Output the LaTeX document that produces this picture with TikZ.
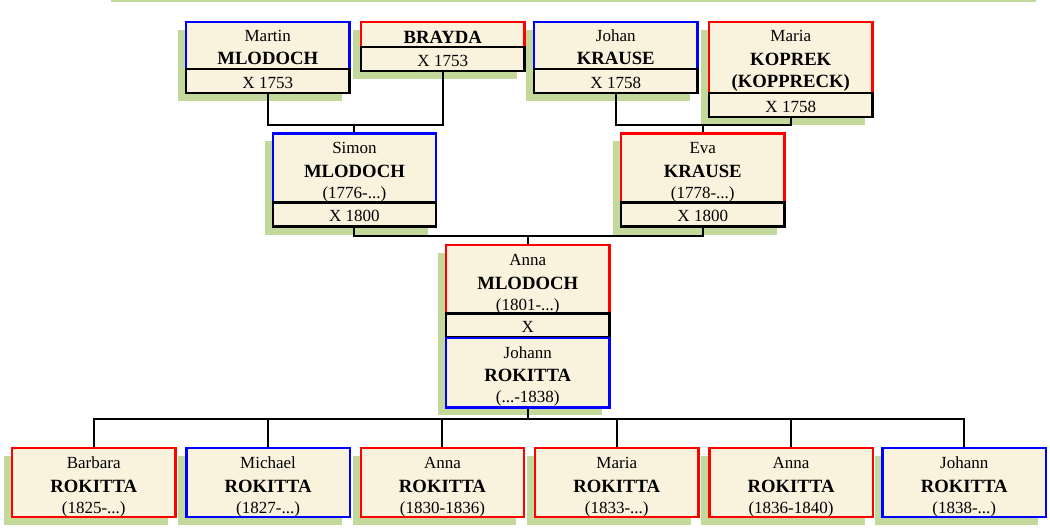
\documentclass[tikz,border=0pt]{standalone}
\usepackage{fontspec}
\setmainfont{Liberation Serif}
\usetikzlibrary{backgrounds}
\definecolor{cream}{RGB}{249,243,222}
\definecolor{leaf}{RGB}{195,216,155}
\definecolor{fred}{RGB}{255,0,0}
\definecolor{mblue}{RGB}{0,0,255}
\tikzset{
 cell/.style={draw, fill=cream, line width=2.4pt, minimum width=163.5pt, inner sep=0pt, outer sep=0pt, anchor=north west},
 fem/.style={cell, draw=fred},
 mal/.style={cell, draw=mblue},
 wed/.style={cell, draw=black, minimum height=24.2pt},
 reg/.style={anchor=base, inner sep=0pt, font=\fontsize{17}{17}\selectfont},
 bld/.style={anchor=base, inner sep=0pt, font=\fontsize{18.7}{18.7}\selectfont\bfseries},
 link/.style={draw=black, line width=2pt},
 greenshadow/.style={fill=leaf},
}
\newcommand\twol[3]{\node[reg] (#1-a) at ([yshift=-19pt]#1.north) {#2};
  \node[bld] (#1-b) at ([yshift=-42.5pt]#1.north) {#3};}
\newcommand\threel[4]{\node[reg] (#1-a) at ([yshift=-20pt]#1.north) {#2};
  \node[bld] (#1-b) at ([yshift=-44pt]#1.north) {#3};
  \node[reg] (#1-c) at ([yshift=-65pt]#1.north) {#4};}
\newcommand\wedl[2]{\node[reg] (#1-t) at ([yshift=4.6pt]#1.south) {#2};}
\begin{document}
\begin{tikzpicture}[x=1pt,y=-1pt]
\useasboundingbox (0,0) rectangle (1050,530);
\draw[leaf, line width=1.6pt] (111,0.8) -- (1036,0.8);
% top row
\node[mal, minimum height=47pt] (martin) at (186,22) {};
\node[wed] (martinx) at (186,69) {};
\twol{martin}{Martin}{MLODOCH}
\wedl{martinx}{X 1753}
\node[fem, minimum height=24.7pt] (brayda) at (361,22) {};
\node[wed] (braydax) at (361,46.7) {};
\node[bld] (brayda-b) at ([yshift=-21.3pt]brayda.north) {BRAYDA};
\wedl{braydax}{X 1753}
\node[mal, minimum height=47pt] (johan) at (534,22) {};
\node[wed] (johanx) at (534,69) {};
\twol{johan}{Johan}{KRAUSE}
\wedl{johanx}{X 1758}
\node[fem, minimum height=71pt] (maria) at (709,22) {};
\node[wed] (mariax) at (709,93) {};
\node[reg] (maria-a) at ([yshift=-19pt]maria.north) {Maria};
\node[bld] (maria-b) at ([yshift=-43pt]maria.north) {KOPREK};
\node[bld] (maria-c) at ([yshift=-65.5pt]maria.north) {(KOPPRECK)};
\wedl{mariax}{X 1758}
% middle row
\node[mal, minimum height=69pt] (simon) at (272.7,133.3) {};
\node[wed] (simonx) at (272.7,202.3) {};
\threel{simon}{Simon}{MLODOCH}{(1776-...)}
\wedl{simonx}{X 1800}
\node[fem, minimum height=69pt] (eva) at (621,133.3) {};
\node[wed] (evax) at (621,202.3) {};
\threel{eva}{Eva}{KRAUSE}{(1778-...)}
\wedl{evax}{X 1800}
% couple
\node[fem, minimum height=68.3pt] (anna) at (446,245) {};
\node[wed] (annax) at (446,313.3) {};
\node[mal, minimum height=69.6pt] (johann) at (446,337.7) {};
\threel{anna}{Anna}{MLODOCH}{(1801-...)}
\wedl{annax}{X}
\node[reg] (johann-a) at ([yshift=-20.6pt]johann.north) {Johann};
\node[bld] (johann-b) at ([yshift=-44pt]johann.north) {ROKITTA};
\node[reg] (johann-c) at ([yshift=-65pt]johann.north) {(...-1838)};
% children
\node[fem, minimum height=69pt] (c1) at (12,448) {};
\node[mal, minimum height=69pt] (c2) at (186.3,448) {};
\node[fem, minimum height=69pt] (c3) at (360.7,448) {};
\node[fem, minimum height=69pt] (c4) at (535,448) {};
\node[fem, minimum height=69pt] (c5) at (709.3,448) {};
\node[mal, minimum height=69pt] (c6) at (882.5,448) {};
\threel{c1}{Barbara}{ROKITTA}{(1825-...)}
\threel{c2}{Michael}{ROKITTA}{(1827-...)}
\threel{c3}{Anna}{ROKITTA}{(1830-1836)}
\threel{c4}{Maria}{ROKITTA}{(1833-...)}
\threel{c5}{Anna}{ROKITTA}{(1836-1840)}
\threel{c6}{Johann}{ROKITTA}{(1838-...)}
\coordinate (r1) at (0,125);
\coordinate (r3) at (0,235.7);
\coordinate (r4) at (0,418.5);
\begin{scope}[on background layer]
\foreach \a/\b in {martin/martinx, brayda/braydax, johan/johanx, maria/mariax, simon/simonx, eva/evax, anna/johann, c1/c1, c2/c2, c3/c3, c4/c4, c5/c5, c6/c6}
  \fill[greenshadow] ([shift={(-8,8)}]\a.north west) rectangle ([shift={(-8,8)}]\b.south east);
\draw[link] (martinx.south) -- (martinx.south |- r1) -- (braydax.south |- r1) -- (braydax.south);
\draw[link] (simon.north) -- (simon.north |- r1);
\draw[link] (johanx.south) -- (johanx.south |- r1) -- (mariax.south |- r1) -- (mariax.south);
\draw[link] (eva.north) -- (eva.north |- r1);
\draw[link] (simonx.south) -- (simonx.south |- r3) -- (evax.south |- r3) -- (evax.south);
\draw[link] (anna.north) -- (anna.north |- r3);
\draw[link] (johann.south) -- (johann.south |- r4);
\draw[link] (c1.north) -- (c1.north |- r4) -- (c6.north |- r4) -- (c6.north);
\foreach \c in {c2,c3,c4,c5} \draw[link] (\c.north) -- (\c.north |- r4);
\end{scope}
\end{tikzpicture}
\end{document}
